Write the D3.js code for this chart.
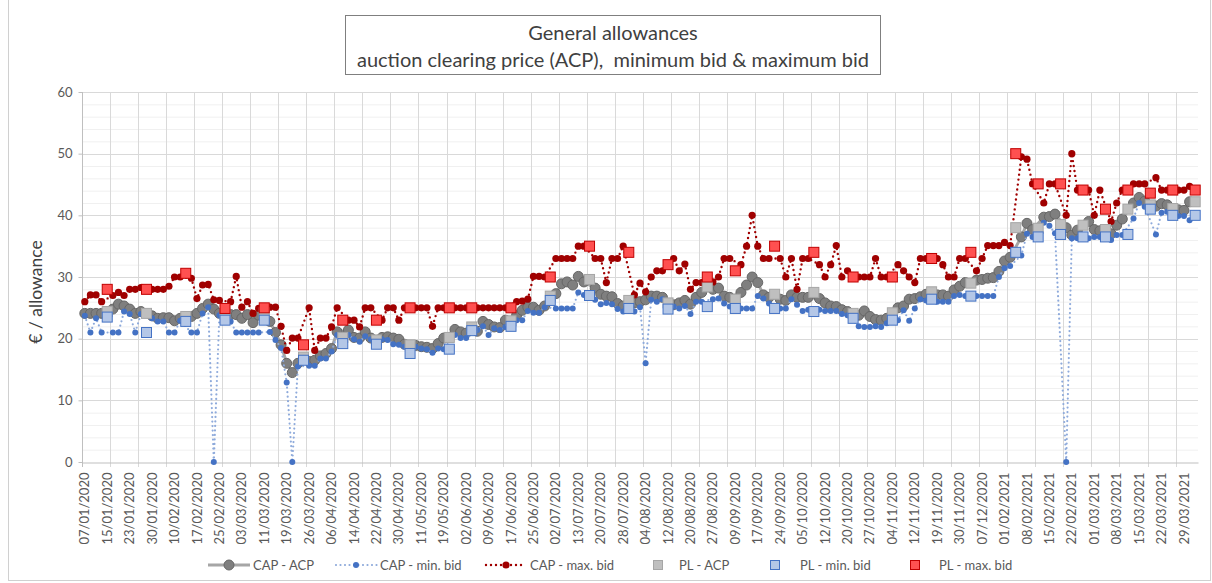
<!DOCTYPE html>
<html><head><meta charset="utf-8">
<script src="https://cdn.jsdelivr.net/npm/d3@7"></script>
<style>body{margin:0;background:#fff;} svg{display:block;font-family:Lato,'Open Sans',sans-serif;}</style>
</head><body><svg id="c" width="1212" height="583"></svg>
<script>
const dates = [
"07/01/2020","09/01/2020","13/01/2020","14/01/2020","15/01/2020","16/01/2020","20/01/2020","21/01/2020",
"23/01/2020","27/01/2020","28/01/2020","29/01/2020","30/01/2020","03/02/2020","04/02/2020","06/02/2020",
"10/02/2020","11/02/2020","12/02/2020","13/02/2020","17/02/2020","18/02/2020","20/02/2020","24/02/2020",
"25/02/2020","26/02/2020","27/02/2020","02/03/2020","03/03/2020","05/03/2020","09/03/2020","10/03/2020",
"11/03/2020","12/03/2020","16/03/2020","17/03/2020","19/03/2020","23/03/2020","24/03/2020","25/03/2020",
"26/03/2020","30/03/2020","31/03/2020","02/04/2020","06/04/2020","07/04/2020","08/04/2020","09/04/2020",
"14/04/2020","16/04/2020","20/04/2020","21/04/2020","22/04/2020","23/04/2020","27/04/2020","28/04/2020",
"30/04/2020","05/05/2020","06/05/2020","07/05/2020","11/05/2020","12/05/2020","14/05/2020","18/05/2020",
"19/05/2020","20/05/2020","26/05/2020","28/05/2020","02/06/2020","03/06/2020","04/06/2020","08/06/2020",
"09/06/2020","11/06/2020","15/06/2020","16/06/2020","17/06/2020","18/06/2020","22/06/2020","23/06/2020",
"25/06/2020","29/06/2020","30/06/2020","01/07/2020","02/07/2020","06/07/2020","07/07/2020","09/07/2020",
"13/07/2020","14/07/2020","15/07/2020","16/07/2020","20/07/2020","21/07/2020","23/07/2020","27/07/2020",
"28/07/2020","29/07/2020","30/07/2020","03/08/2020","04/08/2020","06/08/2020","10/08/2020","11/08/2020",
"12/08/2020","13/08/2020","17/08/2020","18/08/2020","20/08/2020","24/08/2020","25/08/2020","26/08/2020",
"27/08/2020","01/09/2020","03/09/2020","08/09/2020","09/09/2020","10/09/2020","14/09/2020","15/09/2020",
"17/09/2020","21/09/2020","22/09/2020","23/09/2020","24/09/2020","28/09/2020","29/09/2020","01/10/2020",
"05/10/2020","06/10/2020","07/10/2020","08/10/2020","12/10/2020","13/10/2020","15/10/2020","19/10/2020",
"20/10/2020","21/10/2020","22/10/2020","26/10/2020","27/10/2020","29/10/2020","02/11/2020","03/11/2020",
"04/11/2020","05/11/2020","09/11/2020","10/11/2020","12/11/2020","16/11/2020","17/11/2020","18/11/2020",
"19/11/2020","23/11/2020","24/11/2020","26/11/2020","30/11/2020","01/12/2020","02/12/2020","03/12/2020",
"07/12/2020","08/12/2020","10/12/2020","14/12/2020","01/02/2021","02/02/2021","03/02/2021","04/02/2021",
"08/02/2021","09/02/2021","10/02/2021","11/02/2021","15/02/2021","16/02/2021","17/02/2021","18/02/2021",
"22/02/2021","23/02/2021","24/02/2021","25/02/2021","01/03/2021","02/03/2021","03/03/2021","04/03/2021",
"08/03/2021","09/03/2021","10/03/2021","11/03/2021","15/03/2021","16/03/2021","17/03/2021","18/03/2021",
"22/03/2021","23/03/2021","24/03/2021","25/03/2021","29/03/2021","30/03/2021","31/03/2021"
];

const capACP = [
24.1,24.1,24.1,24.1,null,24.8,25.6,25.3,
24.8,24.1,24.4,null,23.7,23.3,23.4,23.4,
22.9,23.3,null,23.6,24.1,24.9,25.6,24.8,
24.1,null,23.9,23.9,23.3,23.9,22.6,23.8,
null,22.8,21.0,19.0,16.0,14.5,16.0,null,
16.3,16.5,17.2,17.6,18.4,21.1,null,21.4,
20.2,20.1,21.1,20.1,null,20.2,20.3,20.1,
19.9,19.1,null,18.9,18.7,18.6,18.4,19.2,
20.1,null,21.5,21.1,20.9,null,21.2,22.8,
22.3,21.9,21.8,23.0,null,23.8,24.6,25.1,
25.1,24.6,25.3,null,27.3,28.9,29.2,28.7,
30.1,29.2,null,28.2,27.2,26.9,26.8,25.7,
25.3,null,25.8,26.0,26.3,26.9,26.9,26.7,
null,25.5,25.8,26.2,25.6,26.7,27.5,null,
28.0,28.2,26.9,26.7,null,27.5,28.7,30.0,
29.1,27.1,26.7,null,26.4,26.2,27.1,26.7,
26.7,26.7,null,26.5,25.8,25.3,25.2,24.7,
24.4,null,23.8,24.5,23.6,23.1,23.0,23.3,
null,25.0,25.3,26.4,26.5,26.8,27.2,null,
27.1,27.1,26.9,27.9,28.5,29.1,null,29.5,
29.6,29.8,29.9,30.9,32.6,33.2,null,36.5,
38.7,37.7,null,39.7,39.8,40.2,null,38.0,
36.8,37.6,null,39.0,37.7,37.5,null,37.0,
38.4,39.4,null,42.0,42.9,42.3,null,41.5,
41.9,41.7,null,40.9,40.8,42.2,null
];

const capMin = [
23.7,21.0,23.3,21.0,null,21.0,21.0,24.4,
24.0,21.0,24.0,null,23.3,22.8,22.8,21.0,
21.0,22.9,null,21.0,21.0,24.1,25.1,0,
23.8,null,22.8,21.0,21.0,21.0,21.0,21.0,
null,21.1,19.8,18.5,12.9,0,15.5,null,
15.6,15.6,16.8,16.8,17.9,20.6,null,20.6,
19.9,19.5,20.4,19.9,null,19.9,19.8,19.1,
19.0,18.7,null,18.7,18.4,18.3,17.7,18.4,
18.3,null,20.6,20.1,20.1,null,21.4,22.0,
20.6,21.7,21.4,21.9,null,23.0,23.0,24.5,
24.2,24.2,25.1,null,24.9,24.9,24.9,24.9,
27.5,27.1,null,26.3,25.6,25.8,25.6,24.8,
24.4,null,24.4,25.1,16.0,26.3,26.0,26.4,
null,25.2,24.9,25.3,24.0,26.0,26.0,null,
26.4,26.5,25.7,25.2,null,24.9,24.9,24.9,
26.9,26.5,25.7,null,24.9,24.9,26.4,25.5,
24.5,24.7,null,24.7,24.5,24.5,24.5,24.0,
23.8,null,22.0,21.9,21.9,22.0,21.9,22.5,
null,23.0,24.6,22.9,24.9,26.4,26.2,null,
26.0,26.0,26.0,26.9,27.1,26.9,null,26.9,
26.9,26.9,26.9,30.0,31.4,31.8,null,33.5,
37.0,36.5,null,38.8,38.3,37.1,null,0,
36.3,36.3,null,36.3,36.5,36.5,null,36.0,
36.8,36.8,null,39.5,42.0,41.4,null,36.9,
40.4,40.6,null,39.9,39.9,39.2,null
];

const capMax = [
26.0,27.1,27.1,26.0,null,27.0,27.5,27.0,
28.0,28.0,28.3,null,28.0,28.0,28.0,28.5,
30.0,30.0,null,29.8,26.5,28.7,28.8,26.3,
26.2,null,26.0,30.1,25.1,26.0,24.1,24.9,
null,25.1,25.1,22.0,18.1,20.1,20.1,null,
25.0,18.1,20.1,20.1,21.9,25.0,null,23.0,
23.0,21.9,25.0,25.0,null,23.0,25.0,25.0,
23.0,25.0,null,25.0,25.0,25.0,22.0,25.0,
25.0,null,25.0,25.0,25.0,null,25.0,25.0,
25.0,25.0,25.0,25.0,null,26.0,26.1,26.4,
30.1,30.1,30.0,null,33.0,33.0,33.0,33.0,
35.0,35.0,null,33.0,33.0,29.1,33.0,33.0,
35.0,null,27.1,29.0,27.6,30.0,31.0,31.0,
null,33.0,31.0,32.1,28.0,29.1,29.1,null,
29.2,30.0,33.0,33.0,null,32.0,35.0,40.0,
35.0,33.0,33.0,null,33.0,30.0,33.0,28.0,
33.0,33.0,null,32.0,30.0,32.0,35.1,30.0,
31.0,null,30.0,30.0,30.0,33.0,30.0,30.0,
null,32.0,31.0,30.0,29.1,33.0,33.0,null,
33.0,32.0,30.0,30.0,33.0,33.0,null,31.0,
33.0,35.1,35.1,35.1,35.6,35.1,null,49.5,
49.1,45.1,null,42.0,45.1,45.1,null,40.0,
50.0,44.1,null,44.1,40.0,44.1,null,39.0,
42.0,44.1,null,45.1,45.1,45.1,null,46.1,
44.1,44.1,null,44.1,44.1,44.7,null
];

const plDates = ["15/01/2020","29/01/2020","12/02/2020","26/02/2020","11/03/2020","25/03/2020","08/04/2020","22/04/2020",
"06/05/2020","20/05/2020","03/06/2020","17/06/2020","01/07/2020","15/07/2020","29/07/2020","12/08/2020",
"26/08/2020","09/09/2020","23/09/2020","07/10/2020","21/10/2020","04/11/2020","18/11/2020","02/12/2020",
"03/02/2021","10/02/2021","17/02/2021","24/02/2021","03/03/2021","10/03/2021","17/03/2021","24/03/2021","31/03/2021"];
const plACP = [24.4,24.1,23.6,24.0,24.2,17.0,20.2,19.8,19.0,20.2,21.9,22.9,26.9,29.6,26.2,25.8,28.4,26.4,27.2,27.5,24.1,24.2,27.6,29.0,38.0,37.9,38.5,38.4,37.7,41.0,41.7,41.1,42.2];
const plMin = [23.5,21.0,22.8,23.0,23.0,16.5,19.2,19.1,17.6,18.3,21.3,22.0,26.2,27.0,24.9,24.8,25.2,24.9,24.9,24.4,23.3,23.0,26.4,26.9,34.0,36.5,36.9,36.5,36.5,36.9,41.0,40.0,40.0];
const plMax = [28.0,28.0,30.6,24.9,25.0,19.0,23.0,23.0,25.0,25.0,25.0,25.0,30.0,35.0,34.0,32.0,30.0,31.0,35.0,34.0,30.0,30.0,33.0,34.0,50.0,45.1,45.1,44.1,41.0,44.1,43.6,44.1,44.1];

const yTicks = [0,10,20,30,40,50,60];
const titleLines = ["General allowances","auction clearing price (ACP),  minimum bid & maximum bid"];
const yTitle = "€ / allowance";
const legendNames = ["CAP - ACP","CAP - min. bid","CAP - max. bid","PL - ACP","PL - min. bid","PL - max. bid"];

const svg = d3.select('#c');
const x = d3.scaleBand().domain(dates).range([82,1198]).padding(0);
const y = d3.scaleLinear().domain([0,60]).range([462,92]);
const cx = d => x(d) + x.bandwidth()/2;

// chart border
svg.append('rect').attr('x',8.5).attr('y',-1).attr('width',1202).attr('height',581.5)
  .attr('fill','none').attr('stroke','#d0d0d0');

// minor gridlines
const minor = d3.range(0,61,2).filter(v=>v%10!==0);
svg.append('g').selectAll('line').data(minor).join('line')
  .attr('x1',82).attr('x2',1198).attr('y1',d=>y(d)+0.5).attr('y2',d=>y(d)+0.5)
  .attr('stroke','#f0f0f0').attr('stroke-width',1);
// major gridlines
svg.append('g').selectAll('line').data(yTicks.slice(1)).join('line')
  .attr('x1',82).attr('x2',1198).attr('y1',d=>Math.round(y(d))+0.5).attr('y2',d=>Math.round(y(d))+0.5)
  .attr('stroke','#d9d9d9').attr('stroke-width',1);
// vertical gridlines every 5 categories
const vIdx = d3.range(0,dates.length,5);
svg.append('g').selectAll('line').data(vIdx).join('line')
  .attr('x1',i=>Math.round(x(dates[i]))+0.5).attr('x2',i=>Math.round(x(dates[i]))+0.5)
  .attr('y1',92).attr('y2',467)
  .attr('stroke',i=>i===0?'#bfbfbf':'#d9d9d9').attr('stroke-width',1);

// y axis labels
const yAxis = d3.axisLeft(y).tickValues(yTicks).tickSize(4).tickPadding(6);
const gy = svg.append('g').attr('transform','translate(82.5,0)').call(yAxis);
gy.select('.domain').remove();
gy.selectAll('line').attr('stroke','#bfbfbf');
gy.selectAll('text').attr('fill','#595959').style('font-size','13px').style('font-family','Lato,sans-serif');

// x axis
const xAxis = d3.axisBottom(x).tickValues(dates.filter((d,i)=>i%4===0)).tickSize(0);
const gx = svg.append('g').attr('transform','translate(0,462.5)').call(xAxis);
gx.select('.domain').attr('stroke','#bfbfbf');
gx.selectAll('text').attr('transform','rotate(-90)').attr('text-anchor','end')
  .attr('x',-10).attr('y',0).attr('dy','0.35em')
  .attr('fill','#595959').style('font-size','13px').style('font-family','Lato,sans-serif');

// y title
svg.append('text').attr('transform','translate(42,292) rotate(-90)').attr('text-anchor','middle')
  .attr('fill','#404040').style('font-size','17.5px').text(yTitle);

// title
svg.append('rect').attr('x',345.5).attr('y',15.5).attr('width',535).attr('height',59)
  .attr('fill','#fff').attr('stroke','#7f7f7f');
svg.append('g').selectAll('text').data(titleLines).join('text')
  .attr('x',613).attr('y',(d,i)=>40+i*27).attr('text-anchor','middle')
  .style('white-space','pre').attr('fill','#404040').style('font-size','20px').text(d=>d);

// series
const pts = arr => dates.map((d,i)=>({d,v:arr[i]})).filter(p=>p.v!=null);
const line = d3.line().x(p=>cx(p.d)).y(p=>y(p.v));

const gACP = svg.append('g');
gACP.append('path').attr('d',line(pts(capACP))).attr('fill','none').attr('stroke','#a6a6a6').attr('stroke-width',3);
gACP.selectAll('circle').data(pts(capACP)).join('circle').attr('cx',p=>cx(p.d)).attr('cy',p=>y(p.v)).attr('r',5)
  .attr('fill','#7f7f7f').attr('stroke','#666').attr('stroke-width',1);

const gMin = svg.append('g');
gMin.append('path').attr('d',line(pts(capMin))).attr('fill','none').attr('stroke','#8eaadb').attr('stroke-width',2.2)
  .attr('stroke-dasharray','0,4.5').attr('stroke-linecap','round');
gMin.selectAll('circle').data(pts(capMin)).join('circle').attr('cx',p=>cx(p.d)).attr('cy',p=>y(p.v)).attr('r',3)
  .attr('fill','#4472c4');

const gMax = svg.append('g');
gMax.append('path').attr('d',line(pts(capMax))).attr('fill','none').attr('stroke','#a00000').attr('stroke-width',2.4)
  .attr('stroke-dasharray','0,5').attr('stroke-linecap','round');
gMax.selectAll('circle').data(pts(capMax)).join('circle').attr('cx',p=>cx(p.d)).attr('cy',p=>y(p.v)).attr('r',3.6)
  .attr('fill','#a00000');

const sq = 10;
function squares(vals, fill, stroke){
  svg.append('g').selectAll('rect').data(plDates.map((d,i)=>({d,v:vals[i]}))).join('rect')
    .attr('x',p=>cx(p.d)-sq/2).attr('y',p=>y(p.v)-sq/2).attr('width',sq).attr('height',sq)
    .attr('fill',fill).attr('stroke',stroke).attr('stroke-width',1);
}
squares(plACP,'#bfbfbf','#a6a6a6');
squares(plMin,'#b4c7e7','#4472c4');
squares(plMax,'#ff5050','#c00000');

// legend
const ly = 565;
const lg = svg.append('g').style('font-size','13px').attr('fill','#595959');
lg.append('line').attr('x1',208).attr('x2',250).attr('y1',ly).attr('y2',ly).attr('stroke','#a6a6a6').attr('stroke-width',3);
lg.append('circle').attr('cx',229).attr('cy',ly).attr('r',5).attr('fill','#7f7f7f').attr('stroke','#666');
lg.append('line').attr('x1',336).attr('x2',377).attr('y1',ly).attr('y2',ly).attr('stroke','#8eaadb').attr('stroke-width',2.2)
  .attr('stroke-dasharray','0,4.5').attr('stroke-linecap','round');
lg.append('circle').attr('cx',356).attr('cy',ly).attr('r',3).attr('fill','#4472c4');
lg.append('line').attr('x1',486).attr('x2',522).attr('y1',ly).attr('y2',ly).attr('stroke','#a00000').attr('stroke-width',2.4)
  .attr('stroke-dasharray','0,5').attr('stroke-linecap','round');
lg.append('circle').attr('cx',506).attr('cy',ly).attr('r',3.6).attr('fill','#a00000');
[[658,'#bfbfbf','#a6a6a6'],[775,'#b4c7e7','#4472c4'],[915,'#ff5050','#c00000']].forEach(([sx,f,s])=>{
  lg.append('rect').attr('x',sx-4.5).attr('y',ly-4.5).attr('width',9).attr('height',9).attr('fill',f).attr('stroke',s);
});
const lx = [253,380,530,679,800,939];
lg.selectAll('text').data(legendNames).join('text').attr('x',(d,i)=>lx[i]).attr('y',ly).attr('dy','0.35em').text(d=>d);
</script></body></html>
